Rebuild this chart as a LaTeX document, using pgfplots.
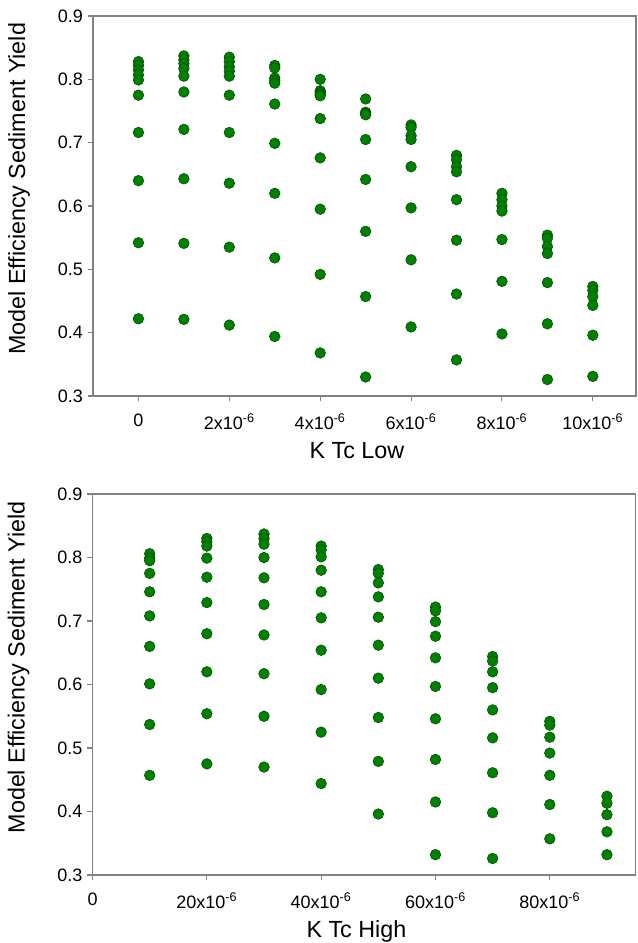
\documentclass[border=0pt]{standalone}
\usepackage{pgfplots}
\pgfplotsset{compat=1.18}
\usepackage{fontspec}
\setmainfont{Liberation Sans}
\definecolor{dotfill}{RGB}{0,128,0}
\definecolor{dotedge}{RGB}{0,75,0}
\definecolor{axgray}{RGB}{130,130,130}

\pgfplotsset{mystyle/.style={
  scale only axis, width=407.25pt,
  axis line style={axgray, line width=0.9pt},
  tick style={axgray, line width=0.8pt},
  tick align=outside, major tick length=4pt,
  xtick pos=bottom, ytick pos=left,
  ymin=0.3, ymax=0.9, ytick={0.3,0.4,0.5,0.6,0.7,0.8,0.9},
  /pgf/number format/assume math mode=true,
  yticklabel style={/pgf/number format/fixed, /pgf/number format/fixed zerofill, /pgf/number format/precision=1},
  ticklabel style={font=\fontsize{13.5}{15}\selectfont},
  xticklabel style={yshift=-6pt},
  label style={font=\fontsize{17.5}{20}\selectfont},
  ylabel={Model Efficiency Sediment Yield},
  ylabel style={at={(rel axis cs:-0.136,0.545)}, anchor=center},
  mark size=4pt,
}}

\begin{document}
\begin{tikzpicture}
\path[use as bounding box] (0,0) rectangle (478.5pt,-707.25pt);

\begin{axis}[mystyle, at={(69.75pt,-12pt)}, anchor=north west, height=285pt,
  xmin=-1, xmax=10.95, xtick={0,2,4,6,8,10},
  xticklabels={0, 2x10\textsuperscript{-6}, 4x10\textsuperscript{-6}, 6x10\textsuperscript{-6}, 8x10\textsuperscript{-6}, 10x10\textsuperscript{-6}},
  xlabel={K Tc Low},
  xlabel style={at={(rel axis cs:0.486,-0.164)}, anchor=base},
]
\addplot[only marks, mark=*, mark options={fill=dotfill, draw=dotedge, line width=0.4pt}] table {
x y
0 0.828
0 0.822
0 0.815
0 0.807
0 0.799
0 0.775
0 0.716
0 0.640
0 0.542
0 0.422
1 0.837
1 0.831
1 0.825
1 0.817
1 0.805
1 0.780
1 0.721
1 0.643
1 0.541
1 0.421
2 0.835
2 0.828
2 0.820
2 0.813
2 0.805
2 0.775
2 0.716
2 0.636
2 0.535
2 0.412
3 0.822
3 0.818
3 0.802
3 0.798
3 0.794
3 0.761
3 0.699
3 0.620
3 0.518
3 0.394
4 0.800
4 0.782
4 0.779
4 0.776
4 0.774
4 0.738
4 0.676
4 0.595
4 0.492
4 0.368
5 0.769
5 0.748
5 0.746
5 0.744
5 0.705
5 0.642
5 0.560
5 0.457
5 0.330
6 0.728
6 0.724
6 0.711
6 0.705
6 0.662
6 0.597
6 0.515
6 0.409
7 0.680
7 0.673
7 0.662
7 0.654
7 0.610
7 0.546
7 0.461
7 0.357
8 0.620
8 0.610
8 0.600
8 0.592
8 0.547
8 0.481
8 0.398
9 0.554
9 0.549
9 0.536
9 0.525
9 0.479
9 0.414
9 0.326
10 0.473
10 0.467
10 0.457
10 0.443
10 0.396
10 0.331
};
\end{axis}

\begin{axis}[mystyle, at={(69.4pt,-370.5pt)}, anchor=north west, height=285.75pt,
  xmin=0, xmax=95, xtick={0,20,40,60,80},
  xticklabels={0, 20x10\textsuperscript{-6}, 40x10\textsuperscript{-6}, 60x10\textsuperscript{-6}, 80x10\textsuperscript{-6}},
  xlabel={K Tc High},
  xlabel style={at={(rel axis cs:0.486,-0.165)}, anchor=base},
]
\addplot[only marks, mark=*, mark options={fill=dotfill, draw=dotedge, line width=0.4pt}] table {
x y
10 0.806
10 0.799
10 0.795
10 0.775
10 0.746
10 0.708
10 0.660
10 0.601
10 0.537
10 0.457
20 0.830
20 0.825
20 0.818
20 0.799
20 0.769
20 0.729
20 0.680
20 0.620
20 0.554
20 0.475
30 0.837
30 0.830
30 0.821
30 0.800
30 0.768
30 0.726
30 0.678
30 0.617
30 0.550
30 0.470
40 0.818
40 0.812
40 0.801
40 0.780
40 0.746
40 0.705
40 0.654
40 0.592
40 0.525
40 0.444
50 0.781
50 0.775
50 0.760
50 0.738
50 0.706
50 0.662
50 0.610
50 0.548
50 0.479
50 0.396
60 0.722
60 0.716
60 0.699
60 0.676
60 0.642
60 0.597
60 0.546
60 0.482
60 0.415
60 0.332
70 0.644
70 0.637
70 0.620
70 0.595
70 0.560
70 0.516
70 0.461
70 0.398
70 0.326
80 0.542
80 0.536
80 0.517
80 0.492
80 0.457
80 0.411
80 0.357
90 0.424
90 0.413
90 0.395
90 0.368
90 0.332
};
\end{axis}
\end{tikzpicture}
\end{document}
